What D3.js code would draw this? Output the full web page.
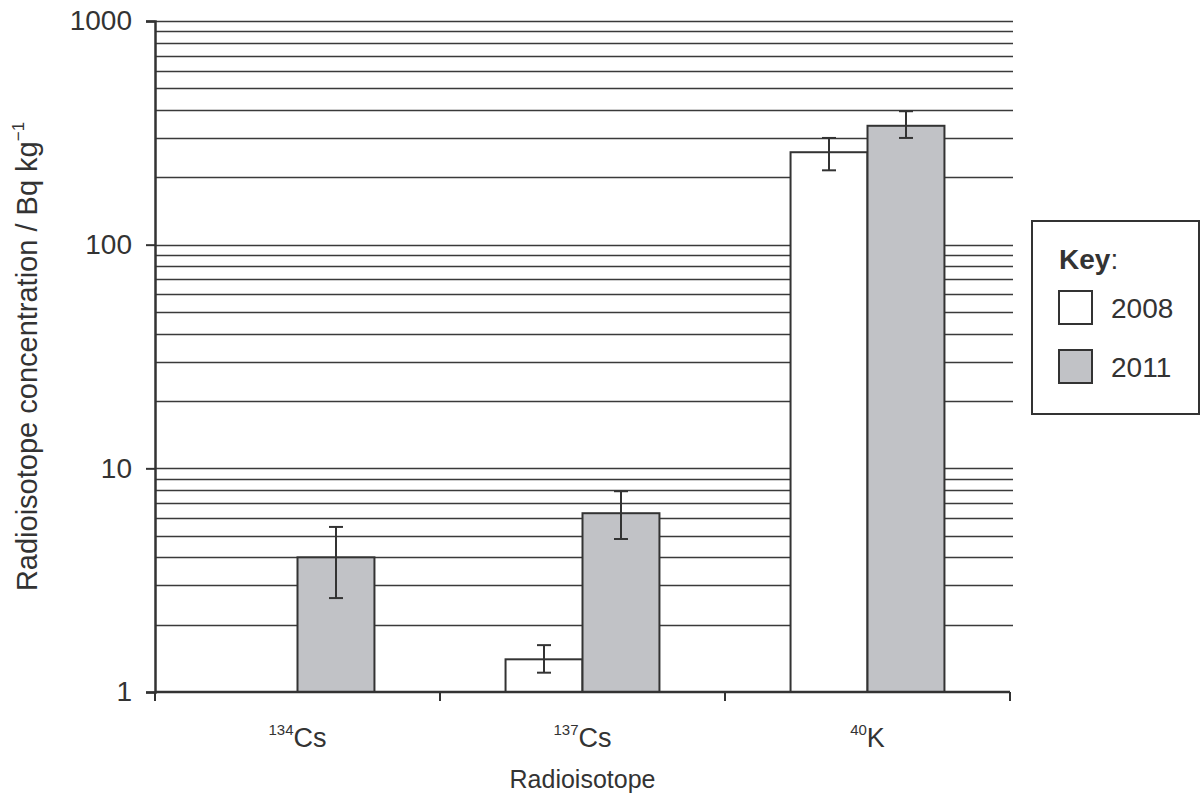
<!DOCTYPE html>
<html lang="en">
<head>
  <meta charset="utf-8">
  <title>Radioisotope concentration</title>
  <script src="https://d3js.org/d3.v7.min.js"></script>
  <style>
    body { margin: 0; background: #fff; }
    text { font-family: "Liberation Sans", Arial, sans-serif; fill: #333; }
  </style>
</head>
<body>
<div id="chart"></div>
<script>
// data
const isotopeMass = ["134", "137", "40"];
const isotopeSymbol = ["Cs", "Cs", "K"];
const years = ["2008", "2011"];
const values2008 = [null, 1.4, 259];
const values2011 = [4.0, 6.3, 340];
const low2008 = [null, 1.22, 215];
const high2008 = [null, 1.62, 300];
const low2011 = [2.63, 4.83, 300];
const high2011 = [5.47, 7.9, 395];
const yTickValues = [1, 10, 100, 1000];

const width = 1202, height = 796;
const margin = { top: 21, right: 192, bottom: 104, left: 155 };

const svg = d3.select("#chart").append("svg")
  .attr("width", width)
  .attr("height", height);

const y = d3.scaleLog()
  .domain([1, 1000])
  .range([height - margin.bottom, margin.top]);

const x0 = d3.scaleBand()
  .domain(isotopeMass)
  .range([margin.left, width - margin.right])
  .padding(0);

const x1 = d3.scaleBand()
  .domain(years)
  .range([x0.bandwidth() * 0.23, x0.bandwidth() * 0.77]);

const fills = { "2008": "#ffffff", "2011": "#c1c2c6" };

// grid lines at every 1..9 x 10^k
const gridVals = [];
for (let k = 0; k < 3; k++) {
  for (let m = 1; m < 10; m++) gridVals.push(m * Math.pow(10, k));
}
gridVals.push(1000);

svg.append("g")
  .selectAll("line")
  .data(gridVals.filter(v => v > 1))
  .join("line")
  .attr("x1", margin.left)
  .attr("x2", width - margin.right + 3)
  .attr("y1", d => Math.round(y(d)) + 0.5)
  .attr("y2", d => Math.round(y(d)) + 0.5)
  .attr("stroke", "#3a3a3a")
  .attr("stroke-width", 1.3);

// bars
const rows = [];
isotopeMass.forEach((m, i) => {
  rows.push({ iso: m, year: "2008", v: values2008[i], lo: low2008[i], hi: high2008[i] });
  rows.push({ iso: m, year: "2011", v: values2011[i], lo: low2011[i], hi: high2011[i] });
});
const data = rows.filter(d => d.v != null);

svg.append("g")
  .selectAll("rect")
  .data(data)
  .join("rect")
  .attr("x", d => x0(d.iso) + x1(d.year))
  .attr("y", d => y(d.v))
  .attr("width", x1.bandwidth())
  .attr("height", d => y(1) - y(d.v))
  .attr("fill", d => fills[d.year])
  .attr("stroke", "#333")
  .attr("stroke-width", 2);

// error bars
const eb = svg.append("g").attr("stroke", "#333").attr("stroke-width", 2);
data.forEach(d => {
  const cx = x0(d.iso) + x1(d.year) + x1.bandwidth() / 2;
  eb.append("line").attr("x1", cx).attr("x2", cx).attr("y1", y(d.lo)).attr("y2", y(d.hi));
  eb.append("line").attr("x1", cx - 7).attr("x2", cx + 7).attr("y1", y(d.lo)).attr("y2", y(d.lo));
  eb.append("line").attr("x1", cx - 7).attr("x2", cx + 7).attr("y1", y(d.hi)).attr("y2", y(d.hi));
});

// y axis
const yAxis = svg.append("g")
  .attr("transform", `translate(${margin.left},0)`)
  .call(d3.axisLeft(y).tickValues(yTickValues).tickFormat(d3.format("d")).tickSize(9).tickPadding(14));
yAxis.select(".domain").attr("stroke", "#333").attr("stroke-width", 2.5);
yAxis.selectAll(".tick line").attr("stroke", "#333").attr("stroke-width", 2);
yAxis.selectAll(".tick text").style("font-size", "28px").attr("fill", "#333");

// x axis line and boundary ticks
const xa = svg.append("g").attr("stroke", "#333").attr("stroke-width", 2.5);
xa.append("line")
  .attr("x1", margin.left).attr("x2", width - margin.right)
  .attr("y1", y(1)).attr("y2", y(1));
const bounds = isotopeMass.map(m => x0(m)).concat([x0.range()[1]]);
xa.selectAll(".bt").data(bounds).join("line")
  .attr("x1", d => d).attr("x2", d => d)
  .attr("y1", y(1)).attr("y2", y(1) + 9)
  .attr("stroke-width", 2);

// category labels with superscript mass numbers
isotopeMass.forEach((m, i) => {
  const t = svg.append("text")
    .attr("x", x0(m) + x0.bandwidth() / 2)
    .attr("y", 747)
    .attr("text-anchor", "middle")
    .style("font-size", "27px");
  t.append("tspan").text(m).style("font-size", "15px").attr("dy", "-12");
  t.append("tspan").text(isotopeSymbol[i]).attr("dy", "12");
});

// axis titles
svg.append("text")
  .attr("x", (margin.left + width - margin.right) / 2)
  .attr("y", 788)
  .attr("text-anchor", "middle")
  .style("font-size", "25px")
  .text("Radioisotope");

const yt = svg.append("text")
  .attr("transform", `translate(37,${(y(1) + y(1000)) / 2}) rotate(-90)`)
  .attr("text-anchor", "middle")
  .style("font-size", "29px");
yt.append("tspan").text("Radioisotope concentration / Bq kg");
yt.append("tspan").text("\u22121").style("font-size", "17px").attr("dy", "-13");

// legend
const lg = svg.append("g");
lg.append("rect")
  .attr("x", 1032).attr("y", 221).attr("width", 167).attr("height", 193)
  .attr("fill", "#fff").attr("stroke", "#333").attr("stroke-width", 2);
const key = lg.append("text").attr("x", 1059).attr("y", 269).style("font-size", "28px");
key.append("tspan").text("Key").style("font-weight", "bold");
key.append("tspan").text(":");
years.forEach((yr, i) => {
  lg.append("rect")
    .attr("x", 1059).attr("y", 291 + i * 59).attr("width", 33).attr("height", 33)
    .attr("fill", fills[yr]).attr("stroke", "#333").attr("stroke-width", 2);
  lg.append("text")
    .attr("x", 1111).attr("y", 318 + i * 59)
    .style("font-size", "28px")
    .text(yr);
});
</script>
</body>
</html>
